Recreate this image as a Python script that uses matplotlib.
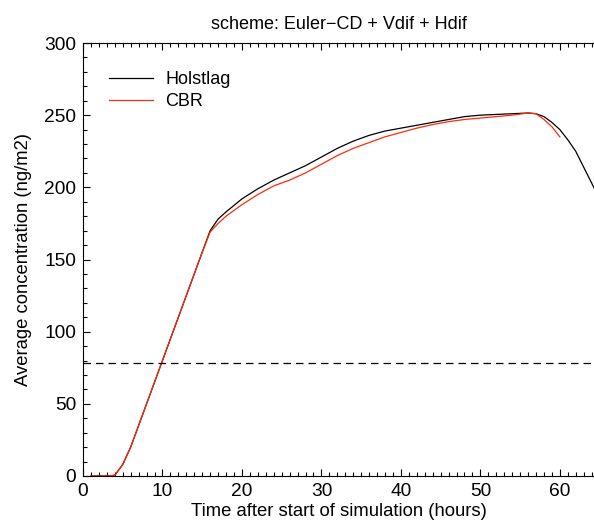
import numpy as np
import matplotlib.pyplot as plt
from matplotlib.ticker import MultipleLocator

plt.rcParams['font.family'] = ['Liberation Sans', 'DejaVu Sans']

# -------------------------
# Data
# -------------------------
hours_hol = [1, 2, 3, 4, 5, 6, 7, 8, 9, 10, 11, 12, 13, 14, 15, 16,
             17, 18, 20, 22, 24, 26, 28, 30, 32, 34, 36, 38, 40, 42, 44,
             46, 48, 50, 52, 54, 56, 57, 58, 59, 60, 61, 62, 63, 64, 65]
holstlag = [0, 0, 0, 0.5, 8, 20, 35, 50, 65, 80, 95, 110, 125, 140, 155, 170,
            178, 183, 192, 199, 205, 210, 215, 221, 227, 232, 236, 239, 241, 243, 245,
            247, 249, 250, 250.5, 251, 251.5, 251, 249, 245, 240, 233, 225, 214, 203, 192]

hours_cbr = [1, 2, 3, 4, 5, 6, 7, 8, 9, 10, 11, 12, 13, 14, 15, 16,
             17, 18, 20, 22, 24, 26, 28, 30, 32, 34, 36, 38, 40, 42, 44,
             46, 48, 50, 52, 54, 56, 57, 58, 59, 60]
cbr = [0, 0, 0, 0.5, 8, 20, 35, 50, 65, 80, 95, 110, 125, 140, 155, 169,
       175, 180, 188, 195, 201, 205, 210, 216, 222, 227, 231, 235, 238, 241, 243.5,
       245.5, 247, 248, 249, 250, 251.5, 251, 247, 242, 235]

threshold = 78

# -------------------------
# Plot
# -------------------------
fig = plt.figure(figsize=(5.94, 5.22), dpi=100)
ax = fig.add_axes([83 / 594, 46 / 522, 1 - 83 / 594, 433 / 522])

ax.plot(hours_hol, holstlag, color='black', lw=0.9, label='Holstlag')
ax.plot(hours_cbr, cbr, color='#ff2a0a', lw=0.9, label='CBR')
ax.axhline(threshold, color='black', lw=0.9, ls=(0, (6, 4)))

ax.set_xlim(0, 64.3)
ax.set_ylim(0, 300)
ax.xaxis.set_major_locator(MultipleLocator(10))
ax.xaxis.set_minor_locator(MultipleLocator(1))
ax.yaxis.set_major_locator(MultipleLocator(50))
ax.yaxis.set_minor_locator(MultipleLocator(10))
ax.tick_params(which='both', direction='in', top=True, right=False, labelsize=13.8, width=0.8)
ax.tick_params(which='major', length=5, pad=5)
ax.tick_params(which='minor', length=3)
ax.spines['right'].set_visible(False)
for s in ['left', 'bottom', 'top']:
    ax.spines[s].set_linewidth(0.8)

ax.set_title('scheme: Euler\u2212CD + Vdif + Hdif', fontsize=13, pad=10)
ax.set_xlabel('Time after start of simulation (hours)', fontsize=13.3, labelpad=2)
ax.set_ylabel('Average concentration (ng/m2)', fontsize=13.3, labelpad=9)

ax.legend(loc='upper left', frameon=False, fontsize=13, handlelength=2.4,
          bbox_to_anchor=(0.02, 0.972), labelspacing=0.25, handletextpad=0.7)

fig.savefig('out.png', dpi=100)
